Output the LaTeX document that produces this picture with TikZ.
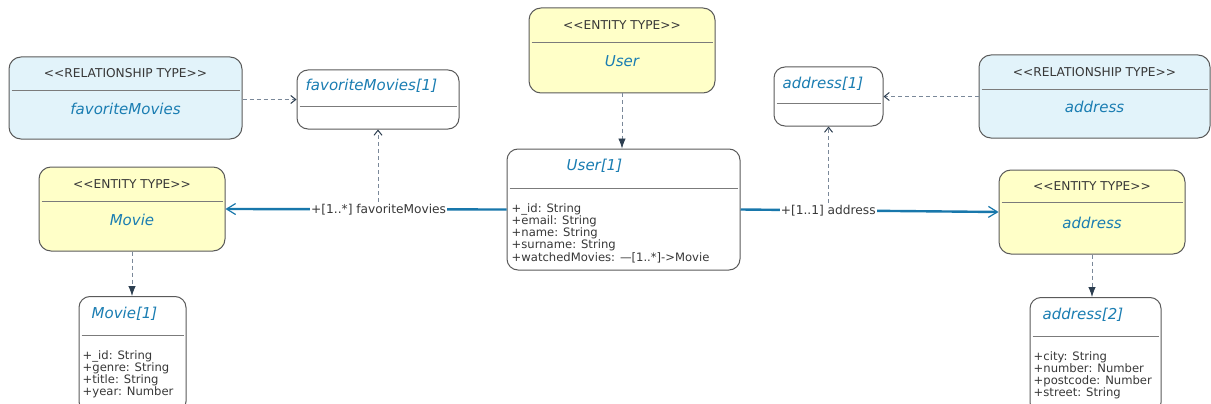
\documentclass[tikz,border=0pt]{standalone}
\usepackage{fontspec}
\setmainfont{DejaVu Sans}
\usetikzlibrary{positioning,arrows.meta}

\definecolor{entfill}{HTML}{FFFFC8}
\definecolor{relfill}{HTML}{E2F3FA}
\definecolor{namecol}{HTML}{1A7DB2}
\definecolor{linkcol}{HTML}{1877AB}
\definecolor{edgecol}{HTML}{5A5A5A}
\definecolor{dashcol}{HTML}{7A8899}
\definecolor{tipcol}{HTML}{2C3E50}
\definecolor{txtcol}{HTML}{383838}

\begin{document}
\begin{tikzpicture}[x=1pt,y=-1pt,
            entitybox/.style={rectangle, rounded corners=12pt, draw=edgecol, line width=1pt, fill=entfill, inner sep=0pt},
            relbox/.style={entitybox, fill=relfill},
            valuebox/.style={entitybox, rounded corners=11pt, fill=white},
            stereo/.style={font=\fontsize{12.2}{14}\selectfont, text=txtcol, inner sep=0pt, anchor=base},
            typename/.style={font=\fontsize{15}{17}\selectfont\itshape, text=namecol, inner sep=0pt, anchor=base},
            attrs/.style={font=\fontsize{11.6}{12.25}\selectfont, text=txtcol, align=left, inner sep=0pt, anchor=north west},
            sepline/.style={draw=edgecol!80, line width=0.8pt},
            typeof/.style={draw=dashcol, line width=0.8pt, dash pattern=on 4pt off 3pt, -{Latex[length=10pt, width=7.5pt, color=tipcol, fill=tipcol]}},
            roleof/.style={draw=dashcol, line width=0.8pt, dash pattern=on 4pt off 3pt, -{Straight Barb[length=5pt, width=8pt, line width=1pt, color=tipcol]}},
            assoc/.style={draw=linkcol, line width=2.4pt, -{Straight Barb[length=9pt, width=11pt, line width=1.2pt]}},
            assoclabel/.style={font=\fontsize{12.2}{14}\selectfont, text=txtcol, fill=white, inner sep=1pt},
        ]
            \useasboundingbox (0,0) rectangle (1211,404);

            % Type boxes
            \node[entitybox, minimum width=186pt, minimum height=85pt] (userType) at (622,50.5) {};
            \node[entitybox, minimum width=186pt, minimum height=84pt] (movieType) at (132,209) {};
            \node[entitybox, minimum width=186pt, minimum height=84pt] (addressType) at (1092,212) {};
            \node[relbox, minimum width=233pt, minimum height=82pt] (favRel) at (125.5,98) {};
            \node[relbox, minimum width=231pt, minimum height=83pt] (addressRel) at (1094.5,96.5) {};

            \node[stereo] (userStereo) at ([yshift=-22pt]userType.north) {<\kern0pt<ENTITY TYPE>\kern0pt>};
            \node[typename] (userName) at ([yshift=-59pt]userType.north) {User};
            \node[stereo] (movieStereo) at ([yshift=-22pt]movieType.north) {<\kern0pt<ENTITY TYPE>\kern0pt>};
            \node[typename] (movieName) at ([yshift=-59pt]movieType.north) {Movie};
            \node[stereo] (addressStereo) at ([yshift=-21pt]addressType.north) {<\kern0pt<ENTITY TYPE>\kern0pt>};
            \node[typename] (addressName) at ([yshift=-59pt]addressType.north) {address};
            \node[stereo] (favStereo) at ([yshift=-21pt]favRel.north) {<\kern0pt<RELATIONSHIP TYPE>\kern0pt>};
            \node[typename] (favName) at ([yshift=-58pt]favRel.north) {favoriteMovies};
            \node[stereo] (addressRelStereo) at ([yshift=-22pt]addressRel.north) {<\kern0pt<RELATIONSHIP TYPE>\kern0pt>};
            \node[typename] (addressRelName) at ([yshift=-58pt]addressRel.north) {address};

            \draw[sepline] ([xshift=3pt,yshift=-35pt]userType.north west) -- ([xshift=-3pt,yshift=-35pt]userType.north east);
            \draw[sepline] ([xshift=3pt,yshift=-35pt]movieType.north west) -- ([xshift=-3pt,yshift=-35pt]movieType.north east);
            \draw[sepline] ([xshift=3pt,yshift=-33pt]addressType.north west) -- ([xshift=-3pt,yshift=-33pt]addressType.north east);
            \draw[sepline] ([xshift=3pt,yshift=-34pt]favRel.north west) -- ([xshift=-3pt,yshift=-34pt]favRel.north east);
            \draw[sepline] ([xshift=3pt,yshift=-35pt]addressRel.north west) -- ([xshift=-3pt,yshift=-35pt]addressRel.north east);

            % Instance boxes
            \node[valuebox, minimum width=233pt, minimum height=121pt] (userVal) at (623.5,209.5) {};
            \node[valuebox, minimum width=162pt, minimum height=59pt] (favVal) at (378,99.5) {};
            \node[valuebox, minimum width=109pt, minimum height=59pt] (addressVal) at (828.5,96.5) {};
            \node[valuebox, minimum width=107pt, minimum height=116pt, anchor=north] (movieVal) at (132.5,296) {};
            \node[valuebox, minimum width=131pt, minimum height=116pt, anchor=north] (addressVal2) at (1095.5,297) {};

            \node[typename, anchor=base west] (userValName) at ([xshift=60pt,yshift=-22pt]userVal.north west) {User[1]};
            \node[typename, anchor=base west] (favValName) at ([xshift=9pt,yshift=-21pt]favVal.north west) {favoriteMovies[1]};
            \node[typename, anchor=base west] (addressValName) at ([xshift=9pt,yshift=-22pt]addressVal.north west) {address[1]};
            \node[typename, anchor=base west] (movieValName) at ([xshift=13pt,yshift=-22pt]movieVal.north west) {Movie[1]};
            \node[typename, anchor=base west] (addressVal2Name) at ([xshift=13pt,yshift=-22pt]addressVal2.north west) {address[2]};

            \draw[sepline] ([xshift=3pt,yshift=-40pt]userVal.north west) -- ([xshift=-3pt,yshift=-40pt]userVal.north east);
            \draw[sepline] ([xshift=3pt,yshift=-37pt]favVal.north west) -- ([xshift=-3pt,yshift=-37pt]favVal.north east);
            \draw[sepline] ([xshift=3pt,yshift=-37pt]addressVal.north west) -- ([xshift=-3pt,yshift=-37pt]addressVal.north east);
            \draw[sepline] ([xshift=3pt,yshift=-39pt]movieVal.north west) -- ([xshift=-3pt,yshift=-39pt]movieVal.north east);
            \draw[sepline] ([xshift=3pt,yshift=-39pt]addressVal2.north west) -- ([xshift=-3pt,yshift=-39pt]addressVal2.north east);

            \node[attrs] (userAttrs) at ([xshift=5pt,yshift=-54.5pt]userVal.north west)
                {+\_id: String\\+email: String\\+name: String\\+surname: String\\+watchedMovies: —[1..*]->Movie};
            \node[attrs] (movieAttrs) at ([xshift=4pt,yshift=-54pt]movieVal.north west)
                {+\_id: String\\+genre: String\\+title: String\\+year: Number};
            \node[attrs] (addressAttrs) at ([xshift=4pt,yshift=-54pt]addressVal2.north west)
                {+city: String\\+number: Number\\+postcode: Number\\+street: String};

            % Lines
            \draw[typeof] (userType.south) -- (userType.south |- userVal.north);
            \draw[typeof] (movieType.south) -- (movieType.south |- movieVal.north);
            \draw[typeof] (addressType.south) -- (addressType.south |- addressVal2.north);
            \draw[roleof] (favRel.east |- favVal.west) -- (favVal.west);
            \draw[roleof] (addressRel.west) -- (addressVal.east);

            \draw[assoc] (userVal.west) -- node[assoclabel, pos=0.455] (favLabel) {+[1..*] favoriteMovies} (movieType.east);
            \draw[assoc] (userVal.east) -- node[assoclabel, pos=0.34] (addressLabel) {+[1..1] address} (addressType.west);

            \draw[roleof] (favLabel.north -| favVal.south) -- (favVal.south);
            \draw[roleof] (addressLabel.north -| addressVal.south) -- (addressVal.south);
        \end{tikzpicture}
\end{document}
